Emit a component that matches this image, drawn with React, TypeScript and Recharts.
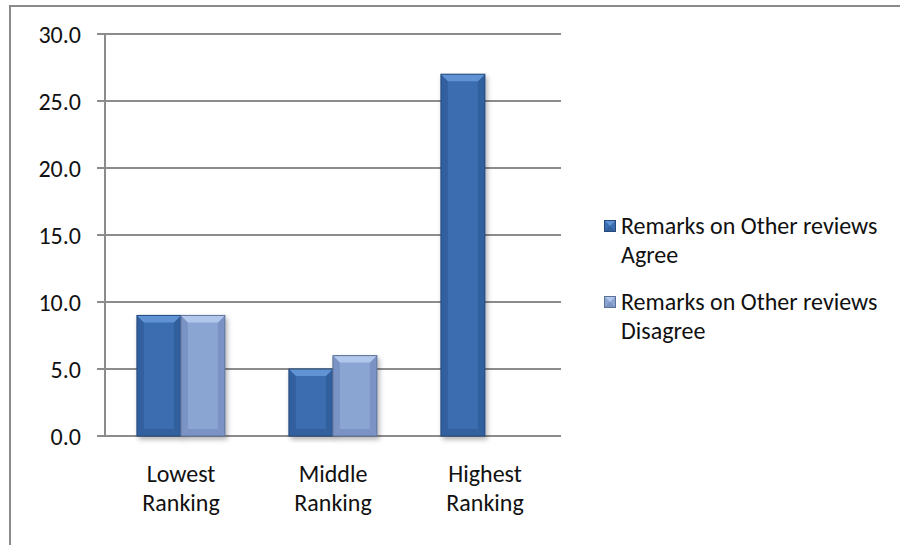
import React from "react";
import { BarChart, Bar, XAxis, YAxis, CartesianGrid } from "recharts";

const categories = ["Lowest Ranking", "Middle Ranking", "Highest Ranking"];
const agreeValues = [9, 5, 27];
const disagreeValues = [9, 6, 0];
const seriesNames = ["Remarks on Other reviews Agree", "Remarks on Other reviews Disagree"];
const yTicks = [0, 5, 10, 15, 20, 25, 30];
const edgeTicks = [0, 1, 2, 3];

const data = categories.map((c, i) => ({
  name: c,
  agree: agreeValues[i],
  disagree: disagreeValues[i] || null,
}));

const FONT = "Carlito, Lato, 'Noto Sans', sans-serif";
const FS = 24;
const GRID = "#8c8c8c";

const palettes = {
  agree: { mid: "#3a6db0", light: "#5e93d3", dark: "#31609f", edge: "#24487a" },
  disagree: { mid: "#8ba5d3", light: "#b1c8ec", dark: "#7a93c4", edge: "#5e7299" },
};

function BevelBar(props: any) {
  const { x, y, width: w, height: h, pal } = props;
  if (!h || h <= 0) return null;
  const b = Math.min(7, w / 4, h / 3);
  return (
    <g filter="url(#barShadow)">
      <rect x={x} y={y} width={w} height={h} fill={pal.mid} />
      <polygon points={`${x},${y} ${x + b},${y + b} ${x + b},${y + h - b} ${x},${y + h}`} fill={pal.dark} />
      <polygon points={`${x + w},${y} ${x + w - b},${y + b} ${x + w - b},${y + h - b} ${x + w},${y + h}`} fill={pal.dark} />
      <polygon points={`${x},${y} ${x + w},${y} ${x + w - b},${y + b} ${x + b},${y + b}`} fill={pal.light} />
      <polygon points={`${x},${y + h} ${x + w},${y + h} ${x + w - b},${y + h - b} ${x + b},${y + h - b}`} fill={pal.dark} />
      <rect x={x} y={y} width={w} height={h} fill="none" stroke={pal.edge} strokeWidth={1} />
    </g>
  );
}

function CatTick(props: any) {
  const { x, y, payload } = props;
  const words = String(payload.value).split(" ");
  return (
    <text x={x} y={y} textAnchor="middle" fill="#111" fontSize={FS} fontFamily={FONT}>
      {words.map((w, i) => (
        <tspan key={i} x={x} dy={i === 0 ? 38 : 29}>{w}</tspan>
      ))}
    </text>
  );
}

function LegendMarker({ pal }: { pal: any }) {
  return (
    <svg width={12} height={12} style={{ display: "block" }}>
      <rect x={0.5} y={0.5} width={11} height={11} fill={pal.mid} stroke={pal.edge} />
      <polygon points="1,1 11,1 6,6" fill={pal.light} />
      <polygon points="1,11 11,11 6,6" fill={pal.dark} />
    </svg>
  );
}

export default function App() {
  const pals = [palettes.agree, palettes.disagree];
  return (
    <div style={{ position: "absolute", left: 0, top: 0, width: 900, height: 545, background: "#fff", overflow: "hidden" }}>
      <div
        style={{
          position: "absolute",
          left: 9,
          top: 5,
          width: 900,
          height: 600,
          borderTop: "2px solid #8a8a8a",
          borderLeft: "2px solid #8a8a8a",
        }}
      />
      <div style={{ position: "absolute", left: 0, top: 0 }}>
        <BarChart
          width={900}
          height={545}
          data={data}
          margin={{ top: 34, right: 339, bottom: 0, left: 25 }}
          barCategoryGap="21%"
          barGap={0}
        >
          <defs>
            <filter id="barShadow" x="-20%" y="-5%" width="150%" height="115%">
              <feDropShadow dx={2} dy={3} stdDeviation={2.5} floodColor="#000" floodOpacity={0.3} />
            </filter>
          </defs>
          <CartesianGrid vertical={false} stroke={GRID} strokeWidth={2} />
          <XAxis
            xAxisId="edges"
            type="number"
            dataKey="edge"
            domain={[0, 3]}
            ticks={edgeTicks}
            tick={false}
            tickSize={8}
            axisLine={{ stroke: GRID, strokeWidth: 2 }}
            tickLine={{ stroke: GRID, strokeWidth: 2 }}
            height={0}
            allowDataOverflow
          />
          <XAxis
            dataKey="name"
            axisLine={false}
            tickLine={false}
            tick={<CatTick />}
            interval={0}
            height={109}
          />
          <YAxis
            domain={[0, 30]}
            ticks={yTicks}
            tickFormatter={(v: number) => v.toFixed(1)}
            tick={{ fill: "#111", fontSize: FS, fontFamily: FONT }}
            tickSize={8}
            tickMargin={16}
            axisLine={{ stroke: GRID, strokeWidth: 2 }}
            tickLine={{ stroke: GRID, strokeWidth: 2 }}
            width={80}
          />
          <Bar dataKey="agree" name={seriesNames[0]} isAnimationActive={false} shape={(p: any) => <BevelBar {...p} pal={palettes.agree} />} />
          <Bar dataKey="disagree" name={seriesNames[1]} isAnimationActive={false} shape={(p: any) => <BevelBar {...p} pal={palettes.disagree} />} />
        </BarChart>
      </div>
      <div style={{ position: "absolute", left: 604, top: 211, fontFamily: FONT, fontSize: FS, color: "#111", lineHeight: "29px" }}>
        {seriesNames.map((n, i) => {
          const words = n.split(" ");
          const last = words.pop();
          return (
            <div key={n} style={{ display: "flex", alignItems: "flex-start", marginBottom: i === 0 ? 18 : 0 }}>
              <div style={{ marginTop: 9, marginRight: 5 }}>
                <LegendMarker pal={pals[i]} />
              </div>
              <div style={{ whiteSpace: "nowrap" }}>
                <div>{words.join(" ")}</div>
                <div>{last}</div>
              </div>
            </div>
          );
        })}
      </div>
    </div>
  );
}
